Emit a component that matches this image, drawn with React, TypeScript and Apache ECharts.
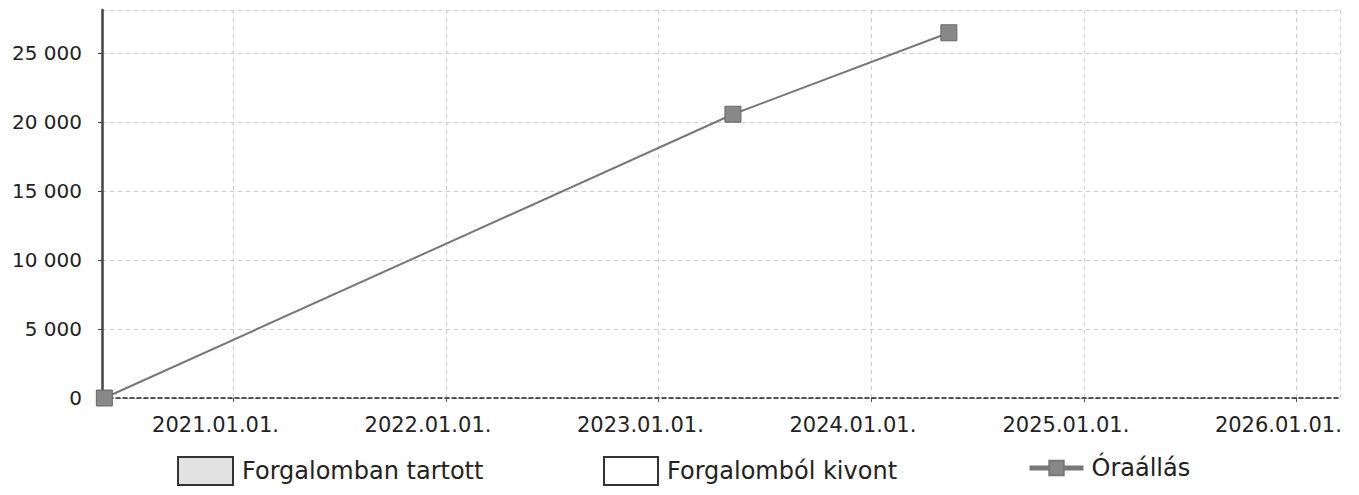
import React, { useEffect, useRef } from "react";
import * as echarts from "echarts";

const seriesNames = ["Forgalomban tartott", "Forgalomból kivont", "Óraállás"];
const readingDates = ["2020-05-24", "2023-05-09", "2024-05-14"];
const readingValues = [0, 20550, 26450];
const xMin = "2020-05-20";
const xMax = "2026-03-17";
const yMax = 28100;

const ts = (d: string) => new Date(d + "T00:00:00Z").getTime();

export default function App() {
  const ref = useRef<HTMLDivElement>(null);
  useEffect(() => {
    document.body.style.margin = "0";
    const chart = echarts.init(ref.current!, null, { renderer: "svg" });
    const font = "DejaVu Sans";
    const year = 365.25 * 24 * 3600 * 1000;
    const legendText = { fontSize: 24, color: "#222", fontFamily: font, padding: [0, 0, 0, 4] };
    chart.setOption({
      animation: false,
      backgroundColor: "#ffffff",
      textStyle: { fontFamily: font },
      grid: { left: 102, right: 19, top: 10, bottom: 97 },
      legend: [
        {
          data: [{ name: seriesNames[0], icon: "rect" }],
          left: 172, top: 451, itemWidth: 55, itemHeight: 28, itemGap: 10,
          textStyle: legendText,
          selectedMode: false,
        },
        {
          data: [{ name: seriesNames[1], icon: "rect" }],
          left: 598, top: 451, itemWidth: 54, itemHeight: 28,
          textStyle: legendText,
          selectedMode: false,
        },
        {
          data: [{ name: seriesNames[2] }],
          left: 1022, top: 451, itemWidth: 54, itemHeight: 18,
          textStyle: { ...legendText, padding: [2, 0, 0, 3] },
          lineStyle: { width: 5, color: "#777" },
          itemStyle: { color: "#888", borderColor: "#777" },
          selectedMode: false,
        },
      ],
      xAxis: {
        type: "time",
        min: ts(xMin),
        max: ts(xMax),
        minInterval: year,
        maxInterval: year,
        axisLine: { show: true, lineStyle: { color: "#222", type: [4, 3], width: 1.5 } },
        axisTick: { show: true, length: 4, lineStyle: { color: "#555" } },
        axisLabel: {
          formatter: "{yyyy}.{MM}.{dd}.",
          fontSize: 21,
          color: "#222",
          margin: 16,
          padding: [0, 36, 0, 0],
          showMinLabel: false,
          showMaxLabel: false,
          hideOverlap: false,
        },
        splitLine: { show: true, lineStyle: { color: "#ccc", type: [4, 4] } },
      },
      yAxis: {
        type: "value",
        min: 0,
        max: yMax,
        interval: 5000,
        axisLine: { show: true, lineStyle: { color: "#444", width: 2.5 } },
        axisTick: { show: true, length: 4, lineStyle: { color: "#444" } },
        axisLabel: {
          fontSize: 20,
          color: "#222",
          margin: 20,
          showMaxLabel: false,
          formatter: (v: number) => String(v).replace(/\B(?=(\d{3})+(?!\d))/g, " "),
        },
        splitLine: { show: true, lineStyle: { color: "#ccc", type: [4, 4] } },
      },
      series: [
        {
          name: seriesNames[0],
          type: "line",
          data: [],
          symbol: "rect",
          itemStyle: { color: "#e2e2e2", borderColor: "#333", borderWidth: 1.5 },
          lineStyle: { color: "#e2e2e2" },
        },
        {
          name: seriesNames[1],
          type: "line",
          data: [],
          symbol: "rect",
          itemStyle: { color: "#ffffff", borderColor: "#333", borderWidth: 1.5 },
          lineStyle: { color: "#ffffff" },
        },
        {
          name: seriesNames[2],
          type: "line",
          data: readingDates.map((d, i) => [ts(d), readingValues[i]]),
          symbol: "rect",
          symbolSize: 16,
          lineStyle: { color: "#777", width: 2 },
          itemStyle: { color: "#888", borderColor: "#666", borderWidth: 1 },
        },
      ],
    });
    return () => chart.dispose();
  }, []);
  return <div ref={ref} style={{ width: 1359, height: 495 }} />;
}
